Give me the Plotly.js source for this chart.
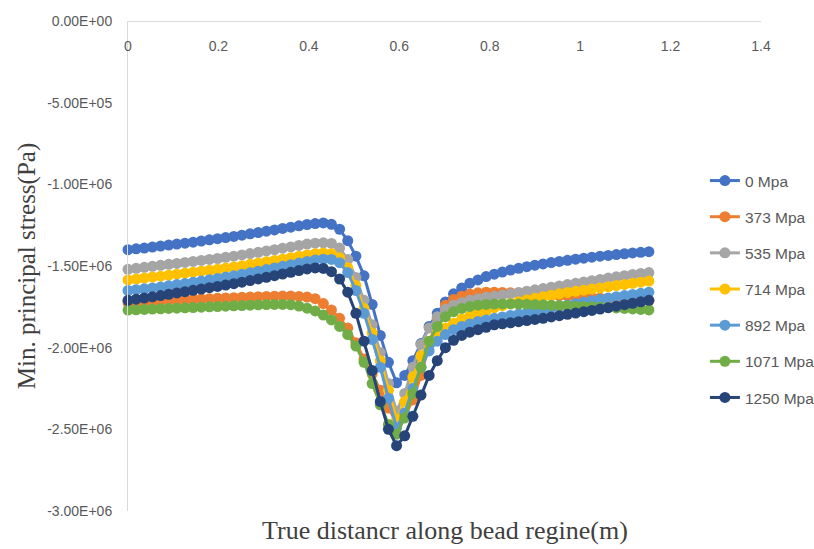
<!DOCTYPE html>
<html>
<head>
<meta charset="utf-8">
<script src="https://cdn.plot.ly/plotly-3.0.1.min.js"></script>
<style>
  html, body { margin: 0; padding: 0; background: #ffffff; }
  #chart { width: 814px; height: 549px; }
</style>
</head>
<body>
<div id="chart"></div>
<script>
// Distance along the bead region (m)
const distance = [
  0.000, 0.018, 0.036, 0.054, 0.072, 0.090, 0.108, 0.126, 0.144, 0.162,
  0.180, 0.198, 0.216, 0.234, 0.252, 0.270, 0.288, 0.306, 0.324, 0.342,
  0.360, 0.378, 0.396, 0.414, 0.432, 0.450, 0.468, 0.486, 0.504, 0.522,
  0.540, 0.558, 0.576, 0.594, 0.612, 0.630, 0.648, 0.666, 0.684, 0.702,
  0.720, 0.738, 0.756, 0.774, 0.792, 0.810, 0.828, 0.846, 0.864, 0.882,
  0.900, 0.918, 0.936, 0.954, 0.972, 0.990, 1.008, 1.026, 1.044, 1.062,
  1.080, 1.098, 1.116, 1.134, 1.152
];

// Minimum principal stress, in units of 1e6 Pa
const stress0 = [
  -1.400, -1.395, -1.390, -1.384, -1.378, -1.372, -1.366, -1.360, -1.354, -1.347,
  -1.340, -1.333, -1.326, -1.319, -1.311, -1.303, -1.295, -1.287, -1.279, -1.270,
  -1.262, -1.254, -1.246, -1.240, -1.236, -1.245, -1.275, -1.345, -1.440, -1.560,
  -1.735, -1.925, -2.090, -2.215, -2.170, -2.080, -1.975, -1.870, -1.790, -1.720,
  -1.670, -1.635, -1.605, -1.585, -1.565, -1.550, -1.537, -1.525, -1.514, -1.504,
  -1.495, -1.487, -1.479, -1.472, -1.465, -1.458, -1.452, -1.446, -1.440, -1.435,
  -1.430, -1.425, -1.420, -1.416, -1.412
];
const stress373 = [
  -1.725, -1.722, -1.719, -1.716, -1.713, -1.710, -1.708, -1.706, -1.704, -1.702,
  -1.700, -1.698, -1.696, -1.694, -1.692, -1.690, -1.688, -1.686, -1.685, -1.684,
  -1.684, -1.686, -1.690, -1.700, -1.730, -1.770, -1.820, -1.880, -1.970, -2.070,
  -2.160, -2.260, -2.370, -2.460, -2.420, -2.320, -2.170, -1.980, -1.820, -1.740,
  -1.705, -1.685, -1.672, -1.664, -1.660, -1.660, -1.662, -1.664, -1.666, -1.669,
  -1.672, -1.675, -1.678, -1.681, -1.684, -1.687, -1.690, -1.693, -1.696, -1.699,
  -1.702, -1.705, -1.708, -1.711, -1.714
];
const stress535 = [
  -1.520, -1.514, -1.508, -1.502, -1.496, -1.490, -1.484, -1.478, -1.472, -1.466,
  -1.460, -1.454, -1.447, -1.440, -1.432, -1.424, -1.416, -1.408, -1.400, -1.391,
  -1.383, -1.374, -1.366, -1.360, -1.358, -1.362, -1.390, -1.460, -1.570, -1.710,
  -1.860, -2.030, -2.220, -2.390, -2.280, -2.120, -1.980, -1.880, -1.810, -1.765,
  -1.740, -1.725, -1.710, -1.700, -1.692, -1.685, -1.678, -1.670, -1.662, -1.654,
  -1.646, -1.638, -1.630, -1.622, -1.614, -1.606, -1.598, -1.590, -1.582, -1.574,
  -1.566, -1.559, -1.552, -1.546, -1.540
];
const stress714 = [
  -1.585, -1.580, -1.574, -1.568, -1.562, -1.556, -1.550, -1.544, -1.538, -1.532,
  -1.526, -1.520, -1.513, -1.506, -1.498, -1.490, -1.482, -1.474, -1.466, -1.458,
  -1.449, -1.440, -1.432, -1.425, -1.421, -1.425, -1.450, -1.510, -1.620, -1.760,
  -1.910, -2.080, -2.260, -2.440, -2.330, -2.180, -2.050, -1.960, -1.910, -1.880,
  -1.850, -1.825, -1.805, -1.790, -1.775, -1.755, -1.742, -1.730, -1.719, -1.708,
  -1.698, -1.688, -1.679, -1.670, -1.662, -1.655, -1.648, -1.641, -1.634, -1.627,
  -1.620, -1.613, -1.606, -1.599, -1.592
];
const stress892 = [
  -1.650, -1.645, -1.640, -1.634, -1.628, -1.621, -1.614, -1.607, -1.600, -1.592,
  -1.584, -1.576, -1.568, -1.559, -1.550, -1.541, -1.532, -1.522, -1.512, -1.502,
  -1.492, -1.482, -1.472, -1.463, -1.458, -1.460, -1.480, -1.540, -1.650, -1.790,
  -1.950, -2.120, -2.310, -2.490, -2.400, -2.250, -2.120, -2.020, -1.960, -1.920,
  -1.890, -1.870, -1.855, -1.840, -1.830, -1.820, -1.812, -1.803, -1.794, -1.785,
  -1.776, -1.767, -1.758, -1.749, -1.740, -1.731, -1.722, -1.713, -1.704, -1.696,
  -1.688, -1.681, -1.674, -1.667, -1.660
];
const stress1071 = [
  -1.770, -1.768, -1.766, -1.764, -1.762, -1.760, -1.758, -1.756, -1.754, -1.752,
  -1.750, -1.748, -1.746, -1.744, -1.742, -1.740, -1.738, -1.736, -1.735, -1.735,
  -1.737, -1.745, -1.758, -1.775, -1.800, -1.830, -1.870, -1.920, -1.990, -2.090,
  -2.220, -2.350, -2.470, -2.530, -2.430, -2.280, -2.120, -1.960, -1.870, -1.810,
  -1.780, -1.760, -1.748, -1.740, -1.735, -1.733, -1.732, -1.732, -1.733, -1.734,
  -1.736, -1.738, -1.740, -1.742, -1.744, -1.746, -1.748, -1.750, -1.752, -1.754,
  -1.757, -1.760, -1.763, -1.766, -1.769
];
const stress1250 = [
  -1.710, -1.703, -1.696, -1.689, -1.681, -1.673, -1.665, -1.657, -1.649, -1.641,
  -1.633, -1.625, -1.617, -1.608, -1.599, -1.589, -1.579, -1.569, -1.559, -1.549,
  -1.539, -1.528, -1.518, -1.512, -1.515, -1.535, -1.580, -1.660, -1.790, -1.960,
  -2.140, -2.330, -2.500, -2.600, -2.540, -2.420, -2.290, -2.170, -2.080, -2.000,
  -1.955, -1.925, -1.905, -1.890, -1.875, -1.860, -1.854, -1.848, -1.841, -1.834,
  -1.827, -1.820, -1.812, -1.804, -1.796, -1.788, -1.780, -1.772, -1.764, -1.755,
  -1.746, -1.737, -1.728, -1.719, -1.710
];

const seriesNames = ['0 Mpa', '373 Mpa', '535 Mpa', '714 Mpa', '892 Mpa', '1071 Mpa', '1250 Mpa'];
const seriesValues = [stress0, stress373, stress535, stress714, stress892, stress1071, stress1250];
const seriesColors = ['#4472C4', '#ED7D31', '#A5A5A5', '#FFC000', '#5B9BD5', '#70AD47', '#264478'];

const yTickValues = [0, -5e5, -1e6, -1.5e6, -2e6, -2.5e6, -3e6];
const UNIT = 1e6;

// Spreadsheet-style scientific labels: 0.00E+00, -5.00E+05 ...
function sciLabel(v) {
  const s = v.toExponential(2).toUpperCase();
  return s.replace(/E([+-])(\d)$/, 'E$10$2');
}

const labelFont = 'Liberation Sans, Arial, sans-serif';
const titleFont = 'Liberation Serif, Times New Roman, serif';

const traces = seriesNames.map((name, k) => ({
  type: 'scatter',
  mode: 'lines+markers',
  name: name,
  legendgroup: name,
  x: distance,
  y: seriesValues[k].map(v => v * UNIT),
  line: { color: seriesColors[k], width: 3 },
  marker: { color: seriesColors[k], size: 11 },
  cliponaxis: false
}));

const layout = {
  width: 814,
  height: 549,
  margin: { l: 128, r: 53, t: 21, b: 38, autoexpand: false },
  paper_bgcolor: '#ffffff',
  plot_bgcolor: '#ffffff',
  showlegend: true,
  // legend floats over the empty right-hand part of the plot
  legend: {
    xref: 'container', yref: 'container',
    x: 0.866, xanchor: 'left',
    y: 0.7013, yanchor: 'top',
    traceorder: 'grouped',
    tracegroupgap: 13,
    font: { family: labelFont, size: 15.5, color: '#595959' },
    bgcolor: 'rgba(0,0,0,0)',
    itemwidth: 30
  },
  // the distance axis runs along the zero-stress line at the top,
  // with its labels hanging just below it
  xaxis: {
    range: [0, 1.4],
    dtick: 0.2,
    tick0: 0,
    anchor: 'free',
    position: 1,
    side: 'bottom',
    ticks: '',
    ticklabelstandoff: 12,
    showline: true,
    linecolor: '#D9D9D9',
    linewidth: 1,
    showgrid: false,
    zeroline: false,
    automargin: false,
    tickfont: { family: labelFont, size: 14, color: '#595959' }
  },
  yaxis: {
    range: [-3e6, 0],
    tickvals: yTickValues,
    ticktext: yTickValues.map(sciLabel),
    ticks: '',
    ticklabelstandoff: 12,
    showline: true,
    linecolor: '#D9D9D9',
    linewidth: 1,
    showgrid: false,
    zeroline: false,
    automargin: false,
    tickfont: { family: labelFont, size: 14, color: '#595959' },
    title: {
      text: 'Min. principal stress(Pa)',
      font: { family: titleFont, size: 25, color: '#404040' },
      standoff: 4
    }
  },
  annotations: [{
    text: 'True distancr along bead regine(m)',
    xref: 'paper', yref: 'paper',
    x: 0.5, y: 0,
    xanchor: 'center', yanchor: 'top',
    yshift: -3,
    showarrow: false,
    font: { family: titleFont, size: 26, color: '#404040' }
  }]
};

Plotly.newPlot('chart', traces, layout, { displayModeBar: false, staticPlot: true });
</script>
</body>
</html>
